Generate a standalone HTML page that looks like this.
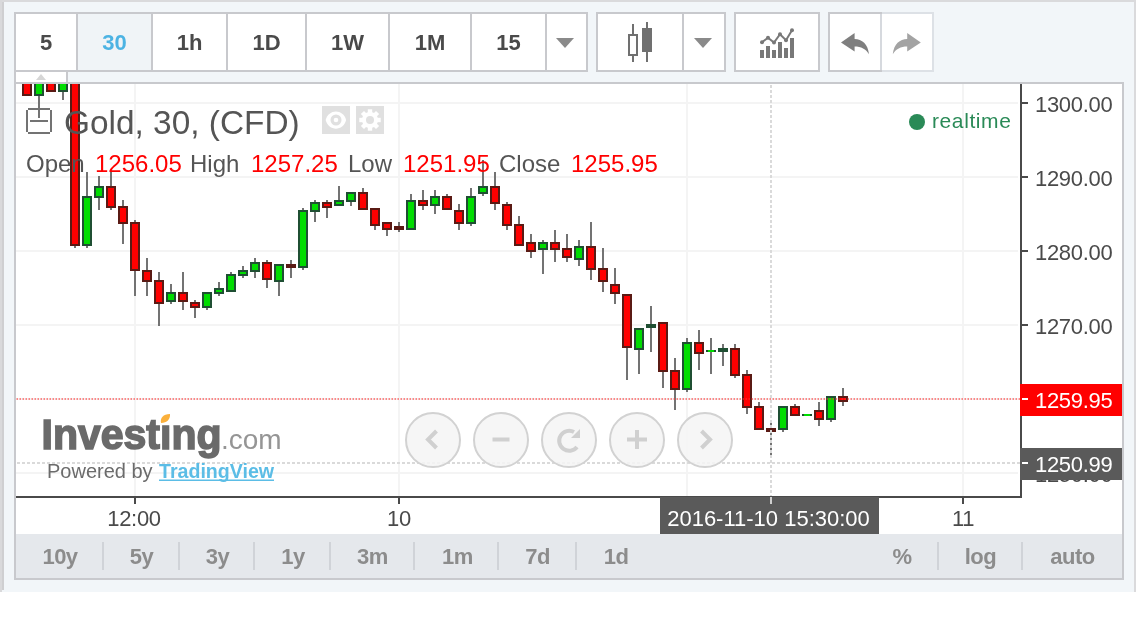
<!DOCTYPE html>
<html>
<head>
<meta charset="utf-8">
<style>
html,body{margin:0;padding:0;background:#ffffff;}
body{width:1136px;height:640px;overflow:hidden;position:relative;font-family:"Liberation Sans",sans-serif;}
svg{position:absolute;left:0;top:0;will-change:transform;}
text{font-family:"Liberation Sans",sans-serif;}
.tb{font-weight:bold;font-size:22px;fill:#4a4a4a;}
.bt{font-weight:bold;font-size:22px;fill:#8c8c8c;letter-spacing:-0.5px}
.ax{font-size:22px;fill:#4a4a4a;letter-spacing:-0.3px}
</style>
</head>
<body>
<svg width="1136" height="640" viewBox="0 0 1136 640" shape-rendering="crispEdges">
<!-- page background -->
<rect x="0" y="0" width="1136" height="592" fill="#f2f6f9"/>
<rect x="0" y="0" width="1136" height="2" fill="#dadadc"/>
<rect x="0" y="0" width="2" height="592" fill="#d9d9db"/>
<rect x="2" y="2" width="2" height="588" fill="#cfcfd1"/>
<rect x="1134" y="0" width="2" height="592" fill="#dadadc"/>

<!-- toolbar group 1 -->
<rect x="14" y="12" width="574" height="60" fill="#c8c9cd"/>
<rect x="16" y="14" width="570" height="56" fill="#ffffff"/>
<rect x="78" y="14" width="73" height="56" fill="#f0f4f7"/>
<rect x="76" y="14" width="2" height="56" fill="#c8c9cd"/>
<rect x="151" y="14" width="2" height="56" fill="#c8c9cd"/>
<rect x="226" y="14" width="2" height="56" fill="#c8c9cd"/>
<rect x="305" y="14" width="2" height="56" fill="#c8c9cd"/>
<rect x="388" y="14" width="2" height="56" fill="#c8c9cd"/>
<rect x="470" y="14" width="2" height="56" fill="#c8c9cd"/>
<rect x="545" y="14" width="2" height="56" fill="#c8c9cd"/>
<text class="tb" x="46" y="50" text-anchor="middle">5</text>
<text class="tb" x="114.5" y="50" text-anchor="middle" style="fill:#4cb3e3">30</text>
<text class="tb" x="189.5" y="50" text-anchor="middle">1h</text>
<text class="tb" x="266.5" y="50" text-anchor="middle">1D</text>
<text class="tb" x="347.5" y="50" text-anchor="middle">1W</text>
<text class="tb" x="430" y="50" text-anchor="middle">1M</text>
<text class="tb" x="508.5" y="50" text-anchor="middle">15</text>
<polygon points="556,38 574,38 565,48" fill="#8a8a8a" shape-rendering="geometricPrecision"/>

<!-- toolbar group 2 -->
<rect x="596" y="12" width="130" height="60" fill="#c8c9cd"/>
<rect x="598" y="14" width="126" height="56" fill="#ffffff"/>
<rect x="682" y="14" width="2" height="56" fill="#c8c9cd"/>
<rect x="632" y="24" width="2" height="38" fill="#707070"/>
<rect x="628" y="34" width="10" height="22" fill="#707070"/>
<rect x="630" y="36" width="6" height="18" fill="#ffffff"/>
<rect x="646" y="22" width="2" height="40" fill="#707070"/>
<rect x="642" y="28" width="10" height="24" fill="#707070"/>
<polygon points="694,38 712,38 703,48" fill="#8a8a8a" shape-rendering="geometricPrecision"/>

<!-- toolbar group 3 -->
<rect x="734" y="12" width="86" height="60" fill="#c8c9cd"/>
<rect x="736" y="14" width="82" height="56" fill="#ffffff"/>
<g fill="#787878">
<rect x="760" y="50" width="4" height="8"/>
<rect x="766" y="46" width="4" height="12"/>
<rect x="772" y="50" width="4" height="8"/>
<rect x="778" y="42" width="4" height="16"/>
<rect x="784" y="48" width="4" height="10"/>
<rect x="790" y="38" width="4" height="20"/>
</g>
<g shape-rendering="geometricPrecision">
<polyline points="762,42.3 768,37.8 774,42.6 780,34.2 786,40.2 792,30.2" fill="none" stroke="#787878" stroke-width="2"/>
<circle cx="762" cy="42.3" r="2" fill="#787878"/>
<circle cx="768" cy="37.8" r="2" fill="#787878"/>
<circle cx="774" cy="42.6" r="2" fill="#787878"/>
<circle cx="780" cy="34.2" r="2" fill="#787878"/>
<circle cx="786" cy="40.2" r="2" fill="#787878"/>
<circle cx="792" cy="30.2" r="2" fill="#787878"/>
</g>

<!-- toolbar group 4 -->
<rect x="828" y="12" width="106" height="60" fill="#dde1e6"/>
<rect x="828" y="12" width="54" height="60" fill="#c8c9cd"/>
<rect x="830" y="14" width="102" height="56" fill="#ffffff"/>
<rect x="880" y="14" width="2" height="56" fill="#d6d9de"/>
<path shape-rendering="geometricPrecision" d="M841,42.6 L854.6,33 L854.6,39 C862,39 868,44 869,54.3 C866,49 861,46.5 854.6,46.5 L854.6,51.5 Z" fill="#7f7f7f"/>
<path shape-rendering="geometricPrecision" d="M920.8,42.6 L907.2,33 L907.2,39 C899.8,39 893.8,44 892.8,54.3 C895.8,49 900.8,46.5 907.2,46.5 L907.2,51.5 Z" fill="#a3a3a3"/>

<!-- chart frame -->
<rect x="14" y="72" width="2" height="508" fill="#c8c9cd"/>
<rect x="16" y="72" width="1108" height="10" fill="#f2f6f9"/>
<rect x="16" y="72" width="50" height="10" fill="#ffffff"/>
<rect x="66" y="72" width="2" height="10" fill="#c8c9cd"/>
<polygon points="36,80 46,80 41,74" fill="#d6d6d6" shape-rendering="geometricPrecision"/>
<rect x="14" y="82" width="1110" height="2" fill="#c8c9cd"/>
<rect x="1122" y="82" width="2" height="498" fill="#c8c9cd"/>
<rect x="14" y="578" width="1110" height="2" fill="#c8c9cd"/>
<rect x="16" y="84" width="1106" height="450" fill="#ffffff"/>
<rect x="16" y="534" width="1106" height="44" fill="#e5e8ec"/>

<!-- grid -->
<g fill="#f4f4f4">
<rect x="16" y="102" width="1002" height="2"/>
<rect x="16" y="176" width="1002" height="2"/>
<rect x="16" y="250" width="1002" height="2"/>
<rect x="16" y="324" width="1002" height="2"/>
<rect x="16" y="398" width="1002" height="2"/>
<rect x="16" y="472" width="1002" height="2"/>
<rect x="134" y="84" width="2" height="412"/>
<rect x="398" y="84" width="2" height="412"/>
<rect x="686" y="84" width="2" height="412"/>
<rect x="962" y="84" width="2" height="412"/>
</g>

<!-- candles -->
<rect x="38" y="84" width="2" height="34" fill="#737373"/>
<rect x="62" y="84" width="2" height="16" fill="#737373"/>
<rect x="74" y="84" width="2" height="164" fill="#737373"/>
<rect x="86" y="172" width="2" height="76" fill="#737373"/>
<rect x="98" y="176" width="2" height="34" fill="#737373"/>
<rect x="110" y="172" width="2" height="38" fill="#737373"/>
<rect x="122" y="200" width="2" height="44" fill="#737373"/>
<rect x="134" y="220" width="2" height="76" fill="#737373"/>
<rect x="146" y="258" width="2" height="38" fill="#737373"/>
<rect x="158" y="272" width="2" height="54" fill="#737373"/>
<rect x="170" y="284" width="2" height="20" fill="#737373"/>
<rect x="182" y="272" width="2" height="38" fill="#737373"/>
<rect x="194" y="300" width="2" height="18" fill="#737373"/>
<rect x="206" y="292" width="2" height="18" fill="#737373"/>
<rect x="218" y="282" width="2" height="14" fill="#737373"/>
<rect x="230" y="272" width="2" height="20" fill="#737373"/>
<rect x="242" y="266" width="2" height="12" fill="#737373"/>
<rect x="254" y="258" width="2" height="20" fill="#737373"/>
<rect x="266" y="260" width="2" height="28" fill="#737373"/>
<rect x="278" y="264" width="2" height="32" fill="#737373"/>
<rect x="290" y="260" width="2" height="18" fill="#737373"/>
<rect x="302" y="208" width="2" height="62" fill="#737373"/>
<rect x="314" y="200" width="2" height="22" fill="#737373"/>
<rect x="326" y="200" width="2" height="18" fill="#737373"/>
<rect x="338" y="186" width="2" height="20" fill="#737373"/>
<rect x="350" y="192" width="2" height="14" fill="#737373"/>
<rect x="362" y="188" width="2" height="22" fill="#737373"/>
<rect x="374" y="208" width="2" height="22" fill="#737373"/>
<rect x="386" y="222" width="2" height="14" fill="#737373"/>
<rect x="398" y="222" width="2" height="10" fill="#737373"/>
<rect x="410" y="194" width="2" height="36" fill="#737373"/>
<rect x="422" y="190" width="2" height="20" fill="#737373"/>
<rect x="434" y="190" width="2" height="24" fill="#737373"/>
<rect x="446" y="194" width="2" height="16" fill="#737373"/>
<rect x="458" y="204" width="2" height="26" fill="#737373"/>
<rect x="470" y="188" width="2" height="38" fill="#737373"/>
<rect x="482" y="160" width="2" height="36" fill="#737373"/>
<rect x="494" y="172" width="2" height="38" fill="#737373"/>
<rect x="506" y="202" width="2" height="28" fill="#737373"/>
<rect x="518" y="216" width="2" height="30" fill="#737373"/>
<rect x="530" y="234" width="2" height="24" fill="#737373"/>
<rect x="542" y="240" width="2" height="34" fill="#737373"/>
<rect x="554" y="230" width="2" height="32" fill="#737373"/>
<rect x="566" y="234" width="2" height="28" fill="#737373"/>
<rect x="578" y="240" width="2" height="26" fill="#737373"/>
<rect x="590" y="222" width="2" height="58" fill="#737373"/>
<rect x="602" y="248" width="2" height="44" fill="#737373"/>
<rect x="614" y="268" width="2" height="36" fill="#737373"/>
<rect x="626" y="294" width="2" height="86" fill="#737373"/>
<rect x="638" y="328" width="2" height="46" fill="#737373"/>
<rect x="650" y="306" width="2" height="46" fill="#737373"/>
<rect x="662" y="322" width="2" height="66" fill="#737373"/>
<rect x="674" y="358" width="2" height="52" fill="#737373"/>
<rect x="686" y="338" width="2" height="54" fill="#737373"/>
<rect x="698" y="330" width="2" height="40" fill="#737373"/>
<rect x="710" y="338" width="2" height="36" fill="#737373"/>
<rect x="722" y="344" width="2" height="22" fill="#737373"/>
<rect x="734" y="344" width="2" height="34" fill="#737373"/>
<rect x="746" y="370" width="2" height="44" fill="#737373"/>
<rect x="758" y="402" width="2" height="28" fill="#737373"/>
<rect x="770" y="420" width="2" height="38" fill="#737373"/>
<rect x="782" y="406" width="2" height="26" fill="#737373"/>
<rect x="794" y="404" width="2" height="12" fill="#737373"/>
<rect x="818" y="402" width="2" height="24" fill="#737373"/>
<rect x="830" y="396" width="2" height="26" fill="#737373"/>
<rect x="842" y="388" width="2" height="18" fill="#737373"/>
<rect x="22" y="84" width="10" height="12" fill="#5a1a14"/>
<rect x="24" y="84" width="6" height="10" fill="#ff0000"/>
<rect x="34" y="84" width="10" height="12" fill="#1f4f33"/>
<rect x="36" y="84" width="6" height="10" fill="#00dd00"/>
<rect x="46" y="84" width="10" height="8" fill="#5a1a14"/>
<rect x="48" y="84" width="6" height="6" fill="#ff0000"/>
<rect x="58" y="84" width="10" height="8" fill="#1f4f33"/>
<rect x="60" y="84" width="6" height="6" fill="#00dd00"/>
<rect x="70" y="84" width="10" height="162" fill="#5a1a14"/>
<rect x="72" y="84" width="6" height="160" fill="#ff0000"/>
<rect x="82" y="196" width="10" height="50" fill="#1f4f33"/>
<rect x="84" y="198" width="6" height="46" fill="#00dd00"/>
<rect x="94" y="186" width="10" height="12" fill="#1f4f33"/>
<rect x="96" y="188" width="6" height="8" fill="#00dd00"/>
<rect x="106" y="186" width="10" height="22" fill="#5a1a14"/>
<rect x="108" y="188" width="6" height="18" fill="#ff0000"/>
<rect x="118" y="206" width="10" height="18" fill="#5a1a14"/>
<rect x="120" y="208" width="6" height="14" fill="#ff0000"/>
<rect x="130" y="222" width="10" height="49" fill="#5a1a14"/>
<rect x="132" y="224" width="6" height="45" fill="#ff0000"/>
<rect x="142" y="270" width="10" height="12" fill="#5a1a14"/>
<rect x="144" y="272" width="6" height="8" fill="#ff0000"/>
<rect x="154" y="280" width="10" height="24" fill="#5a1a14"/>
<rect x="156" y="282" width="6" height="20" fill="#ff0000"/>
<rect x="166" y="292" width="10" height="10" fill="#1f4f33"/>
<rect x="168" y="294" width="6" height="6" fill="#00dd00"/>
<rect x="178" y="292" width="10" height="10" fill="#5a1a14"/>
<rect x="180" y="294" width="6" height="6" fill="#ff0000"/>
<rect x="190" y="302" width="10" height="6" fill="#5a1a14"/>
<rect x="192" y="304" width="6" height="2" fill="#ff0000"/>
<rect x="202" y="292" width="10" height="16" fill="#1f4f33"/>
<rect x="204" y="294" width="6" height="12" fill="#00dd00"/>
<rect x="214" y="288" width="10" height="6" fill="#1f4f33"/>
<rect x="216" y="290" width="6" height="2" fill="#00dd00"/>
<rect x="226" y="274" width="10" height="18" fill="#1f4f33"/>
<rect x="228" y="276" width="6" height="14" fill="#00dd00"/>
<rect x="238" y="270" width="10" height="6" fill="#1f4f33"/>
<rect x="240" y="272" width="6" height="2" fill="#00dd00"/>
<rect x="250" y="262" width="10" height="10" fill="#1f4f33"/>
<rect x="252" y="264" width="6" height="6" fill="#00dd00"/>
<rect x="262" y="262" width="10" height="18" fill="#5a1a14"/>
<rect x="264" y="264" width="6" height="14" fill="#ff0000"/>
<rect x="274" y="264" width="10" height="18" fill="#1f4f33"/>
<rect x="276" y="266" width="6" height="14" fill="#00dd00"/>
<rect x="286" y="264" width="10" height="4" fill="#5a1a14"/>
<rect x="298" y="210" width="10" height="58" fill="#1f4f33"/>
<rect x="300" y="212" width="6" height="54" fill="#00dd00"/>
<rect x="310" y="202" width="10" height="10" fill="#1f4f33"/>
<rect x="312" y="204" width="6" height="6" fill="#00dd00"/>
<rect x="322" y="202" width="10" height="6" fill="#5a1a14"/>
<rect x="324" y="204" width="6" height="2" fill="#ff0000"/>
<rect x="334" y="200" width="10" height="6" fill="#1f4f33"/>
<rect x="336" y="202" width="6" height="2" fill="#00dd00"/>
<rect x="346" y="192" width="10" height="10" fill="#1f4f33"/>
<rect x="348" y="194" width="6" height="6" fill="#00dd00"/>
<rect x="358" y="192" width="10" height="18" fill="#5a1a14"/>
<rect x="360" y="194" width="6" height="14" fill="#ff0000"/>
<rect x="370" y="208" width="10" height="18" fill="#5a1a14"/>
<rect x="372" y="210" width="6" height="14" fill="#ff0000"/>
<rect x="382" y="222" width="10" height="8" fill="#5a1a14"/>
<rect x="384" y="224" width="6" height="4" fill="#ff0000"/>
<rect x="394" y="226" width="10" height="4" fill="#5a1a14"/>
<rect x="406" y="200" width="10" height="30" fill="#1f4f33"/>
<rect x="408" y="202" width="6" height="26" fill="#00dd00"/>
<rect x="418" y="200" width="10" height="6" fill="#5a1a14"/>
<rect x="420" y="202" width="6" height="2" fill="#ff0000"/>
<rect x="430" y="196" width="10" height="10" fill="#1f4f33"/>
<rect x="432" y="198" width="6" height="6" fill="#00dd00"/>
<rect x="442" y="196" width="10" height="14" fill="#5a1a14"/>
<rect x="444" y="198" width="6" height="10" fill="#ff0000"/>
<rect x="454" y="210" width="10" height="14" fill="#5a1a14"/>
<rect x="456" y="212" width="6" height="10" fill="#ff0000"/>
<rect x="466" y="196" width="10" height="28" fill="#1f4f33"/>
<rect x="468" y="198" width="6" height="24" fill="#00dd00"/>
<rect x="478" y="186" width="10" height="8" fill="#1f4f33"/>
<rect x="480" y="188" width="6" height="4" fill="#00dd00"/>
<rect x="490" y="186" width="10" height="18" fill="#5a1a14"/>
<rect x="492" y="188" width="6" height="14" fill="#ff0000"/>
<rect x="502" y="204" width="10" height="22" fill="#5a1a14"/>
<rect x="504" y="206" width="6" height="18" fill="#ff0000"/>
<rect x="514" y="224" width="10" height="22" fill="#5a1a14"/>
<rect x="516" y="226" width="6" height="18" fill="#ff0000"/>
<rect x="526" y="242" width="10" height="10" fill="#5a1a14"/>
<rect x="528" y="244" width="6" height="6" fill="#ff0000"/>
<rect x="538" y="242" width="10" height="8" fill="#1f4f33"/>
<rect x="540" y="244" width="6" height="4" fill="#00dd00"/>
<rect x="550" y="242" width="10" height="8" fill="#5a1a14"/>
<rect x="552" y="244" width="6" height="4" fill="#ff0000"/>
<rect x="562" y="248" width="10" height="10" fill="#5a1a14"/>
<rect x="564" y="250" width="6" height="6" fill="#ff0000"/>
<rect x="574" y="246" width="10" height="14" fill="#1f4f33"/>
<rect x="576" y="248" width="6" height="10" fill="#00dd00"/>
<rect x="586" y="246" width="10" height="24" fill="#5a1a14"/>
<rect x="588" y="248" width="6" height="20" fill="#ff0000"/>
<rect x="598" y="268" width="10" height="14" fill="#5a1a14"/>
<rect x="600" y="270" width="6" height="10" fill="#ff0000"/>
<rect x="610" y="284" width="10" height="10" fill="#5a1a14"/>
<rect x="612" y="286" width="6" height="6" fill="#ff0000"/>
<rect x="622" y="294" width="10" height="54" fill="#5a1a14"/>
<rect x="624" y="296" width="6" height="50" fill="#ff0000"/>
<rect x="634" y="328" width="10" height="22" fill="#1f4f33"/>
<rect x="636" y="330" width="6" height="18" fill="#00dd00"/>
<rect x="646" y="324" width="10" height="4" fill="#1f4f33"/>
<rect x="658" y="322" width="10" height="50" fill="#5a1a14"/>
<rect x="660" y="324" width="6" height="46" fill="#ff0000"/>
<rect x="670" y="370" width="10" height="20" fill="#5a1a14"/>
<rect x="672" y="372" width="6" height="16" fill="#ff0000"/>
<rect x="682" y="342" width="10" height="48" fill="#1f4f33"/>
<rect x="684" y="344" width="6" height="44" fill="#00dd00"/>
<rect x="694" y="342" width="10" height="12" fill="#5a1a14"/>
<rect x="696" y="344" width="6" height="8" fill="#ff0000"/>
<rect x="706" y="350" width="10" height="2" fill="#1f4f33"/>
<rect x="708" y="350" width="6" height="2" fill="#00dd00"/>
<rect x="718" y="348" width="10" height="4" fill="#1f4f33"/>
<rect x="730" y="348" width="10" height="28" fill="#5a1a14"/>
<rect x="732" y="350" width="6" height="24" fill="#ff0000"/>
<rect x="742" y="374" width="10" height="34" fill="#5a1a14"/>
<rect x="744" y="376" width="6" height="30" fill="#ff0000"/>
<rect x="754" y="406" width="10" height="24" fill="#5a1a14"/>
<rect x="756" y="408" width="6" height="20" fill="#ff0000"/>
<rect x="766" y="428" width="10" height="4" fill="#5a1a14"/>
<rect x="778" y="406" width="10" height="24" fill="#1f4f33"/>
<rect x="780" y="408" width="6" height="20" fill="#00dd00"/>
<rect x="790" y="406" width="10" height="10" fill="#5a1a14"/>
<rect x="792" y="408" width="6" height="6" fill="#ff0000"/>
<rect x="802" y="414" width="10" height="2" fill="#1f4f33"/>
<rect x="804" y="414" width="6" height="2" fill="#00dd00"/>
<rect x="814" y="410" width="10" height="10" fill="#5a1a14"/>
<rect x="816" y="412" width="6" height="6" fill="#ff0000"/>
<rect x="826" y="396" width="10" height="24" fill="#1f4f33"/>
<rect x="828" y="398" width="6" height="20" fill="#00dd00"/>
<rect x="838" y="396" width="10" height="6" fill="#5a1a14"/>
<rect x="840" y="398" width="6" height="2" fill="#ff0000"/>
<!-- crosshair -->
<line x1="771" y1="85" x2="771" y2="496" stroke="#dadada" stroke-width="2" stroke-dasharray="3,2"/>
<line x1="17" y1="463" x2="1020" y2="463" stroke="#dadada" stroke-width="2" stroke-dasharray="3,2"/>
<!-- last price line -->
<line x1="16.5" y1="399" x2="1020" y2="399" stroke="#ff3030" stroke-opacity="0.55" stroke-width="2" stroke-dasharray="1.5,1.5" shape-rendering="geometricPrecision"/>


<!-- legend -->
<g fill="#737373">
<rect x="28" y="108" width="22" height="2"/>
<rect x="28" y="132" width="22" height="2"/>
<rect x="26" y="110" width="2" height="22"/>
<rect x="50" y="110" width="2" height="22"/>
<rect x="30" y="120" width="18" height="2"/>
</g>
<text x="64" y="134" style="font-size:33.4px;fill:#555555">Gold, 30, (CFD)</text>
<rect x="322" y="106" width="28" height="28" fill="#e0e0e0"/>
<rect x="356" y="106" width="28" height="28" fill="#e0e0e0"/>
<g shape-rendering="geometricPrecision">
<path d="M325.7,120 C328.5,108.5 343.3,108.5 346.1,120 C343.3,131.5 328.5,131.5 325.7,120 Z" fill="#ffffff"/>
<circle cx="336" cy="120" r="5.5" fill="#e0e0e0"/>
<circle cx="336" cy="120" r="2.3" fill="#ffffff"/>
<g transform="translate(370,120)" fill="#ffffff">
<circle r="8"/>
<rect x="-2.2" y="-10.7" width="4.4" height="21.4"/>
<rect x="-2.2" y="-10.7" width="4.4" height="21.4" transform="rotate(45)"/>
<rect x="-2.2" y="-10.7" width="4.4" height="21.4" transform="rotate(90)"/>
<rect x="-2.2" y="-10.7" width="4.4" height="21.4" transform="rotate(135)"/>
<circle r="4" fill="#e0e0e0"/>
</g>
</g>
<g style="font-size:24px">
<text x="26" y="172" fill="#555555">Open</text>
<text x="95" y="172" fill="#ff0000">1256.05</text>
<text x="190" y="172" fill="#555555">High</text>
<text x="251" y="172" fill="#ff0000">1257.25</text>
<text x="348" y="172" fill="#555555">Low</text>
<text x="403" y="172" fill="#ff0000">1251.95</text>
<text x="499" y="172" fill="#555555">Close</text>
<text x="571" y="172" fill="#ff0000">1255.95</text>
</g>
<circle cx="917" cy="122" r="8" fill="#2a8a57" shape-rendering="geometricPrecision"/>
<text x="932" y="128" style="font-size:21px;letter-spacing:0.6px" fill="#2a8a57">realtime</text>

<!-- logo -->
<defs><filter id="lb" x="-5%" y="-20%" width="110%" height="140%"><feGaussianBlur stdDeviation="0.5"/></filter></defs>
<g shape-rendering="geometricPrecision">
<text filter="url(#lb)" x="41.5" y="449" style="font-size:42px;font-weight:bold" fill="#6b6b6b" stroke="#6b6b6b" stroke-width="1.6" textLength="180" lengthAdjust="spacingAndGlyphs">Investıng</text>
<path filter="url(#lb)" d="M161,423 C160,418 163,414 170,414 C170.5,419 167,423 161,423 Z" fill="#fbb03b"/>
<text filter="url(#lb)" x="221" y="449" style="font-size:28px;" fill="#959595">.com</text>
<text x="47" y="478" style="font-size:20px" fill="#6b6b6b">Powered by</text>
<text x="159" y="478" style="font-size:19.6px;font-weight:bold" fill="#5bbde6">TradingView</text>
<rect x="159" y="479.5" width="115" height="1.5" fill="#5bbde6"/>
</g>

<!-- nav buttons -->
<g shape-rendering="geometricPrecision" fill="rgba(245,245,245,0.85)" stroke="#d2d2d2" stroke-width="2">
<circle cx="433" cy="440" r="27"/>
<circle cx="501" cy="440" r="27"/>
<circle cx="569" cy="440" r="27"/>
<circle cx="637" cy="440" r="27"/>
<circle cx="705" cy="440" r="27"/>
</g>
<g shape-rendering="geometricPrecision" fill="none" stroke="#d0d0d0" stroke-width="4">
<polyline points="436.5,431 428,439.5 436.5,448"/>
<line x1="492.5" y1="439.5" x2="509.5" y2="439.5"/>
<path d="M577,447 A10,10 0 1 1 574,432"/>
<line x1="637" y1="430" x2="637" y2="449"/>
<line x1="627" y1="439.5" x2="647" y2="439.5"/>
<polyline points="701.5,431 710,439.5 701.5,448"/>
</g>
<polygon shape-rendering="geometricPrecision" points="571,438 580,429 580,438" fill="#d0d0d0"/>

<!-- axes -->
<rect x="16" y="496" width="1006" height="2" fill="#4a4a4a"/>
<rect x="1020" y="84" width="2" height="414" fill="#4a4a4a"/>
<g fill="#4a4a4a">
<rect x="1022" y="102" width="6" height="2"/>
<rect x="1022" y="176" width="6" height="2"/>
<rect x="1022" y="250" width="6" height="2"/>
<rect x="1022" y="324" width="6" height="2"/>
<rect x="1022" y="472" width="6" height="2"/>
<rect x="134" y="498" width="2" height="6"/>
<rect x="398" y="498" width="2" height="6"/>
<rect x="962" y="498" width="2" height="6"/>
</g>
<text class="ax" x="1035" y="112">1300.00</text>
<text class="ax" x="1035" y="186">1290.00</text>
<text class="ax" x="1035" y="260">1280.00</text>
<text class="ax" x="1035" y="334">1270.00</text>
<text class="ax" x="1035" y="482">1250.00</text>
<text class="ax" x="134" y="526" text-anchor="middle">12:00</text>
<text class="ax" x="399" y="526" text-anchor="middle">10</text>
<text class="ax" x="963" y="526" text-anchor="middle">11</text>

<!-- price labels -->
<rect x="1020" y="384" width="102" height="32" fill="#ff0000"/>
<rect x="1022" y="398" width="6" height="2" fill="#ffffff"/>
<text class="ax" x="1035" y="408" style="fill:#ffffff">1259.95</text>
<rect x="1020" y="448" width="102" height="32" fill="#5a5a5a"/>
<rect x="1022" y="462" width="6" height="2" fill="#ffffff"/>
<text class="ax" x="1035" y="472" style="fill:#ffffff">1250.99</text>

<!-- date label -->
<rect x="660" y="497" width="219" height="37" fill="#5a5a5a"/>
<line x1="771" y1="497" x2="771" y2="504" stroke="#cfcfcf" stroke-width="2"/>
<text class="ax" x="768.5" y="526" text-anchor="middle" style="fill:#ffffff;letter-spacing:0">2016-11-10 15:30:00</text>

<!-- bottom toolbar -->
<g fill="#d0d3d8">
<rect x="102" y="542" width="2" height="28"/>
<rect x="178" y="542" width="2" height="28"/>
<rect x="253" y="542" width="2" height="28"/>
<rect x="329" y="542" width="2" height="28"/>
<rect x="413" y="542" width="2" height="28"/>
<rect x="497" y="542" width="2" height="28"/>
<rect x="575" y="542" width="2" height="28"/>
<rect x="937" y="542" width="2" height="28"/>
<rect x="1021" y="542" width="2" height="28"/>
</g>
<text class="bt" x="60" y="564" text-anchor="middle">10y</text>
<text class="bt" x="141.5" y="564" text-anchor="middle">5y</text>
<text class="bt" x="217.5" y="564" text-anchor="middle">3y</text>
<text class="bt" x="293" y="564" text-anchor="middle">1y</text>
<text class="bt" x="372.5" y="564" text-anchor="middle">3m</text>
<text class="bt" x="457.5" y="564" text-anchor="middle">1m</text>
<text class="bt" x="537.5" y="564" text-anchor="middle">7d</text>
<text class="bt" x="616" y="564" text-anchor="middle">1d</text>
<text class="bt" x="902" y="564" text-anchor="middle">%</text>
<text class="bt" x="980.5" y="564" text-anchor="middle">log</text>
<text class="bt" x="1072.5" y="564" text-anchor="middle">auto</text>
</svg>
</body>
</html>
